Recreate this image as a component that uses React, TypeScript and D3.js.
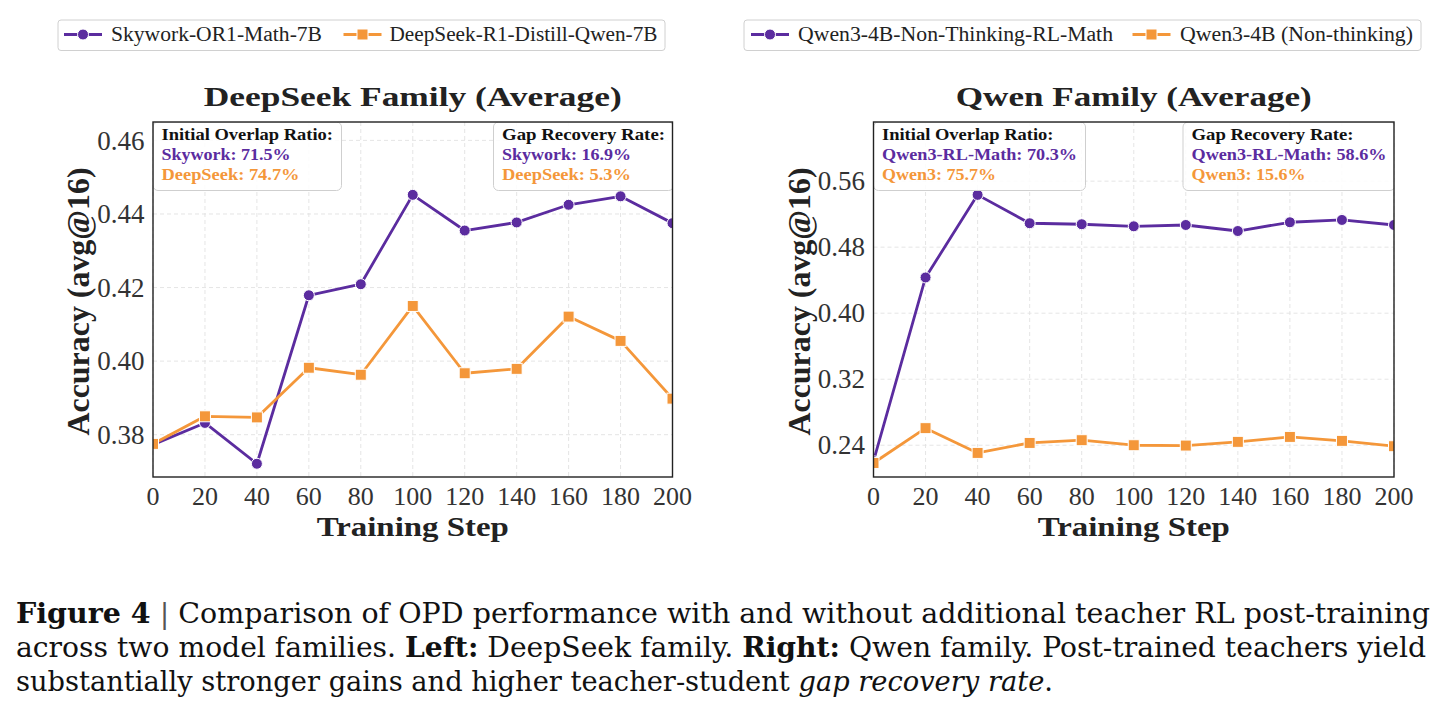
import React from "react";
import * as d3 from "d3";

// ---------- data ----------
const STEPS = [0, 20, 40, 60, 80, 100, 120, 140, 160, 180, 200];
const SKYWORK = [0.3773, 0.3832, 0.3721, 0.4179, 0.4209, 0.4452, 0.4355, 0.4377, 0.4425, 0.4448, 0.4375];
const DEEPSEEK = [0.3775, 0.385, 0.3847, 0.3982, 0.3963, 0.415, 0.3967, 0.3979, 0.4121, 0.4055, 0.3898];
const QWEN_RL = [0.2206, 0.4433, 0.5434, 0.509, 0.5078, 0.5053, 0.5069, 0.4996, 0.5102, 0.513, 0.5069];
const QWEN_BASE = [0.2185, 0.2607, 0.2307, 0.2428, 0.2461, 0.24, 0.2396, 0.2441, 0.2501, 0.2453, 0.2388];

const LEFT_NAMES = ["Skywork-OR1-Math-7B", "DeepSeek-R1-Distill-Qwen-7B"];
const RIGHT_NAMES = ["Qwen3-4B-Non-Thinking-RL-Math", "Qwen3-4B (Non-thinking)"];
const TITLES = ["DeepSeek Family (Average)", "Qwen Family (Average)"];
const LEFT_Y_TICKS = [0.38, 0.4, 0.42, 0.44, 0.46];
const RIGHT_Y_TICKS = [0.24, 0.32, 0.4, 0.48, 0.56];
const X_LABEL = "Training Step";
const Y_LABEL = "Accuracy (avg@16)";
const OVERLAP_HEAD = "Initial Overlap Ratio:";
const GAP_HEAD = "Gap Recovery Rate:";
const LEFT_OVERLAP = ["Skywork: 71.5%", "DeepSeek: 74.7%"];
const LEFT_GAP = ["Skywork: 16.9%", "DeepSeek: 5.3%"];
const RIGHT_OVERLAP = ["Qwen3-RL-Math: 70.3%", "Qwen3: 75.7%"];
const RIGHT_GAP = ["Qwen3-RL-Math: 58.6%", "Qwen3: 15.6%"];

// ---------- style ----------
const PURPLE = "#5B2C9F";
const ORANGE = "#F4973A";
const SERIF = "'Liberation Serif', 'Times New Roman', serif";
const CAPTION_FONT = "'DejaVu Serif', serif";

const TOP = 122;
const BOTTOM = 477;

type Panel = {
  id: string;
  x0: number;
  x1: number;
  yDomain: [number, number];
  yTicks: number[];
  teacher: number[];
  student: number[];
  names: string[];
  nameWidths: number[];
  legend: { x: number; w: number; m1: number; t1: number; m2: number; t2: number };
  title: string;
  titleW: number;
  yLabelX: number;
  overlap: string[];
  overlapW: number[];
  gap: string[];
  gapW: number[];
};

const PANELS: Panel[] = [
  {
    id: "L",
    x0: 153,
    x1: 672.5,
    yDomain: [0.3685, 0.465],
    yTicks: LEFT_Y_TICKS,
    teacher: SKYWORK,
    student: DEEPSEEK,
    names: LEFT_NAMES,
    nameWidths: [211, 268],
    legend: { x: 58, w: 607, m1: 83, t1: 111, m2: 362.5, t2: 389.5 },
    title: TITLES[0],
    titleW: 418,
    yLabelX: 89,
    overlap: LEFT_OVERLAP,
    overlapW: [171.5, 129, 138],
    gap: LEFT_GAP,
    gapW: [163, 129, 129],
  },
  {
    id: "R",
    x0: 873.5,
    x1: 1394,
    yDomain: [0.2015, 0.6317],
    yTicks: RIGHT_Y_TICKS,
    teacher: QWEN_RL,
    student: QWEN_BASE,
    names: RIGHT_NAMES,
    nameWidths: [315, 233],
    legend: { x: 744, w: 677, m1: 770, t1: 798, m2: 1151.5, t2: 1180 },
    title: TITLES[1],
    titleW: 356,
    yLabelX: 810,
    overlap: RIGHT_OVERLAP,
    overlapW: [171.5, 195, 114],
    gap: RIGHT_GAP,
    gapW: [162, 195, 114],
  },
];

function Circle({ x, y, r }: { x: number; y: number; r: number }) {
  return <circle cx={x} cy={y} r={r} fill={PURPLE} stroke="#fff" strokeWidth={1} />;
}
function Square({ x, y, s }: { x: number; y: number; s: number }) {
  return <rect x={x - s / 2} y={y - s / 2} width={s} height={s} fill={ORANGE} stroke="#fff" strokeWidth={1} />;
}

function AnnotBox({
  left,
  head,
  lines,
  widths,
}: {
  left: number;
  head: string;
  lines: string[];
  widths: number[];
}) {
  const pad = 8.5;
  const w = Math.max(...widths) + pad * 2;
  const colors = ["#111", PURPLE, ORANGE];
  const texts = [head, ...lines];
  return (
    <g>
      <rect x={left} y={TOP} width={w} height={68.5} rx={5} ry={5} fill="#fff" fillOpacity={0.85} stroke="#cfcfcf" strokeWidth={1} />
      {texts.map((t, i) => (
        <text
          key={i}
          x={left + pad}
          y={140 + i * 20}
          fontFamily={SERIF}
          fontWeight="bold"
          fontSize={16}
          fill={colors[i]}
          textLength={widths[i]}
          lengthAdjust="spacingAndGlyphs"
        >
          {t}
        </text>
      ))}
    </g>
  );
}

function PanelView({ p }: { p: Panel }) {
  const x = d3.scaleLinear().domain([0, 200]).range([p.x0, p.x1]);
  const y = d3.scaleLinear().domain(p.yDomain).range([BOTTOM, TOP]);
  const line = d3
    .line<number>()
    .x((_, i) => x(STEPS[i]))
    .y((d) => y(d));
  const cx = (p.x0 + p.x1) / 2;
  const lg = p.legend;
  const clipId = `clip-${p.id}`;
  const gapW = Math.max(...p.gapW) + 17;
  return (
    <g>
      {/* legend */}
      <rect x={lg.x} y={20} width={lg.w} height={30.5} rx={3} fill="#fff" stroke="#d0d0d0" strokeWidth={1} />
      <line x1={lg.m1 - 19} x2={lg.m1 + 19} y1={34.5} y2={34.5} stroke={PURPLE} strokeWidth={2.8} />
      <Circle x={lg.m1} y={34.5} r={5.5} />
      <text x={lg.t1} y={41} fontFamily={SERIF} fontSize={20} fill="#222" textLength={p.nameWidths[0]} lengthAdjust="spacingAndGlyphs">
        {p.names[0]}
      </text>
      <line x1={lg.m2 - 19} x2={lg.m2 + 19} y1={34.5} y2={34.5} stroke={ORANGE} strokeWidth={2.8} />
      <Square x={lg.m2} y={34.5} s={11} />
      <text x={lg.t2} y={41} fontFamily={SERIF} fontSize={20} fill="#222" textLength={p.nameWidths[1]} lengthAdjust="spacingAndGlyphs">
        {p.names[1]}
      </text>

      {/* title */}
      <text x={cx} y={106} textAnchor="middle" fontFamily={SERIF} fontWeight="bold" fontSize={28} fill="#222" textLength={p.titleW} lengthAdjust="spacingAndGlyphs">
        {p.title}
      </text>

      <defs>
        <clipPath id={clipId}>
          <rect x={p.x0} y={TOP} width={p.x1 - p.x0} height={BOTTOM - TOP} />
        </clipPath>
      </defs>

      {/* grid */}
      <g stroke="#e2e2e2" strokeWidth={0.9} strokeDasharray="4,3">
        {STEPS.map((s) => (
          <line key={"gx" + s} x1={x(s)} x2={x(s)} y1={TOP} y2={BOTTOM} />
        ))}
        {p.yTicks.map((t) => (
          <line key={"gy" + t} x1={p.x0} x2={p.x1} y1={y(t)} y2={y(t)} />
        ))}
      </g>

      {/* series */}
      <g clipPath={`url(#${clipId})`}>
        <path d={line(p.teacher) || ""} fill="none" stroke={PURPLE} strokeWidth={2.8} strokeLinejoin="round" />
        {p.teacher.map((v, i) => (
          <Circle key={"t" + i} x={x(STEPS[i])} y={y(v)} r={5.5} />
        ))}
        <path d={line(p.student) || ""} fill="none" stroke={ORANGE} strokeWidth={2.8} strokeLinejoin="round" />
        {p.student.map((v, i) => (
          <Square key={"s" + i} x={x(STEPS[i])} y={y(v)} s={11} />
        ))}
      </g>

      {/* annotation boxes */}
      <g clipPath={`url(#${clipId})`}>
        <AnnotBox left={p.x0} head={OVERLAP_HEAD} lines={p.overlap} widths={p.overlapW} />
        <AnnotBox left={p.x1 + 1 - gapW} head={GAP_HEAD} lines={p.gap} widths={p.gapW} />
      </g>

      {/* frame */}
      <rect x={p.x0} y={TOP} width={p.x1 - p.x0} height={BOTTOM - TOP} fill="none" stroke="#222" strokeWidth={1.4} />

      {/* y ticks */}
      {p.yTicks.map((t) => (
        <text key={"yt" + t} x={p.x0 - 8.5} y={y(t)} dy="0.34em" textAnchor="end" fontFamily={SERIF} fontSize={27} fill="#333">
          {d3.format(".2f")(t)}
        </text>
      ))}
      {/* x ticks */}
      {STEPS.map((s) => (
        <text key={"xt" + s} x={x(s)} y={505} textAnchor="middle" fontFamily={SERIF} fontSize={26} fill="#333">
          {s}
        </text>
      ))}

      {/* axis labels */}
      <text x={cx} y={536} textAnchor="middle" fontFamily={SERIF} fontWeight="bold" fontSize={28} fill="#222" textLength={192} lengthAdjust="spacingAndGlyphs">
        {X_LABEL}
      </text>
      <text
        transform={`translate(${p.yLabelX},${(TOP + BOTTOM) / 2 + 2}) rotate(-90)`}
        textAnchor="middle"
        fontFamily={SERIF}
        fontWeight="bold"
        fontSize={32}
        fill="#222"
        textLength={268}
        lengthAdjust="spacingAndGlyphs"
      >
        {Y_LABEL}
      </text>
    </g>
  );
}

export default function App() {
  return (
    <svg width={1442} height={727} style={{ position: "absolute", left: 0, top: 0, background: "#fff" }}>
      <rect x={0} y={0} width={1442} height={727} fill="#fff" />
      {PANELS.map((p) => (
        <PanelView key={p.id} p={p} />
      ))}
      <g fontFamily={CAPTION_FONT} fontSize={27} fill="#111">
        <text x={16} y={623} textLength={1414} lengthAdjust="spacingAndGlyphs">
          <tspan fontWeight="bold">Figure 4</tspan>
          <tspan fill="#555"> | </tspan>
          <tspan>Comparison of OPD performance with and without additional teacher RL post-training</tspan>
        </text>
        <text x={16} y={657} textLength={1410} lengthAdjust="spacingAndGlyphs">
          <tspan>across two model families. </tspan>
          <tspan fontWeight="bold">Left:</tspan>
          <tspan> DeepSeek family. </tspan>
          <tspan fontWeight="bold">Right:</tspan>
          <tspan> Qwen family. Post-trained teachers yield</tspan>
        </text>
        <text x={16} y={691} textLength={1037} lengthAdjust="spacingAndGlyphs">
          <tspan>substantially stronger gains and higher teacher-student </tspan>
          <tspan fontStyle="italic">gap recovery rate</tspan>
          <tspan>.</tspan>
        </text>
      </g>
    </svg>
  );
}
